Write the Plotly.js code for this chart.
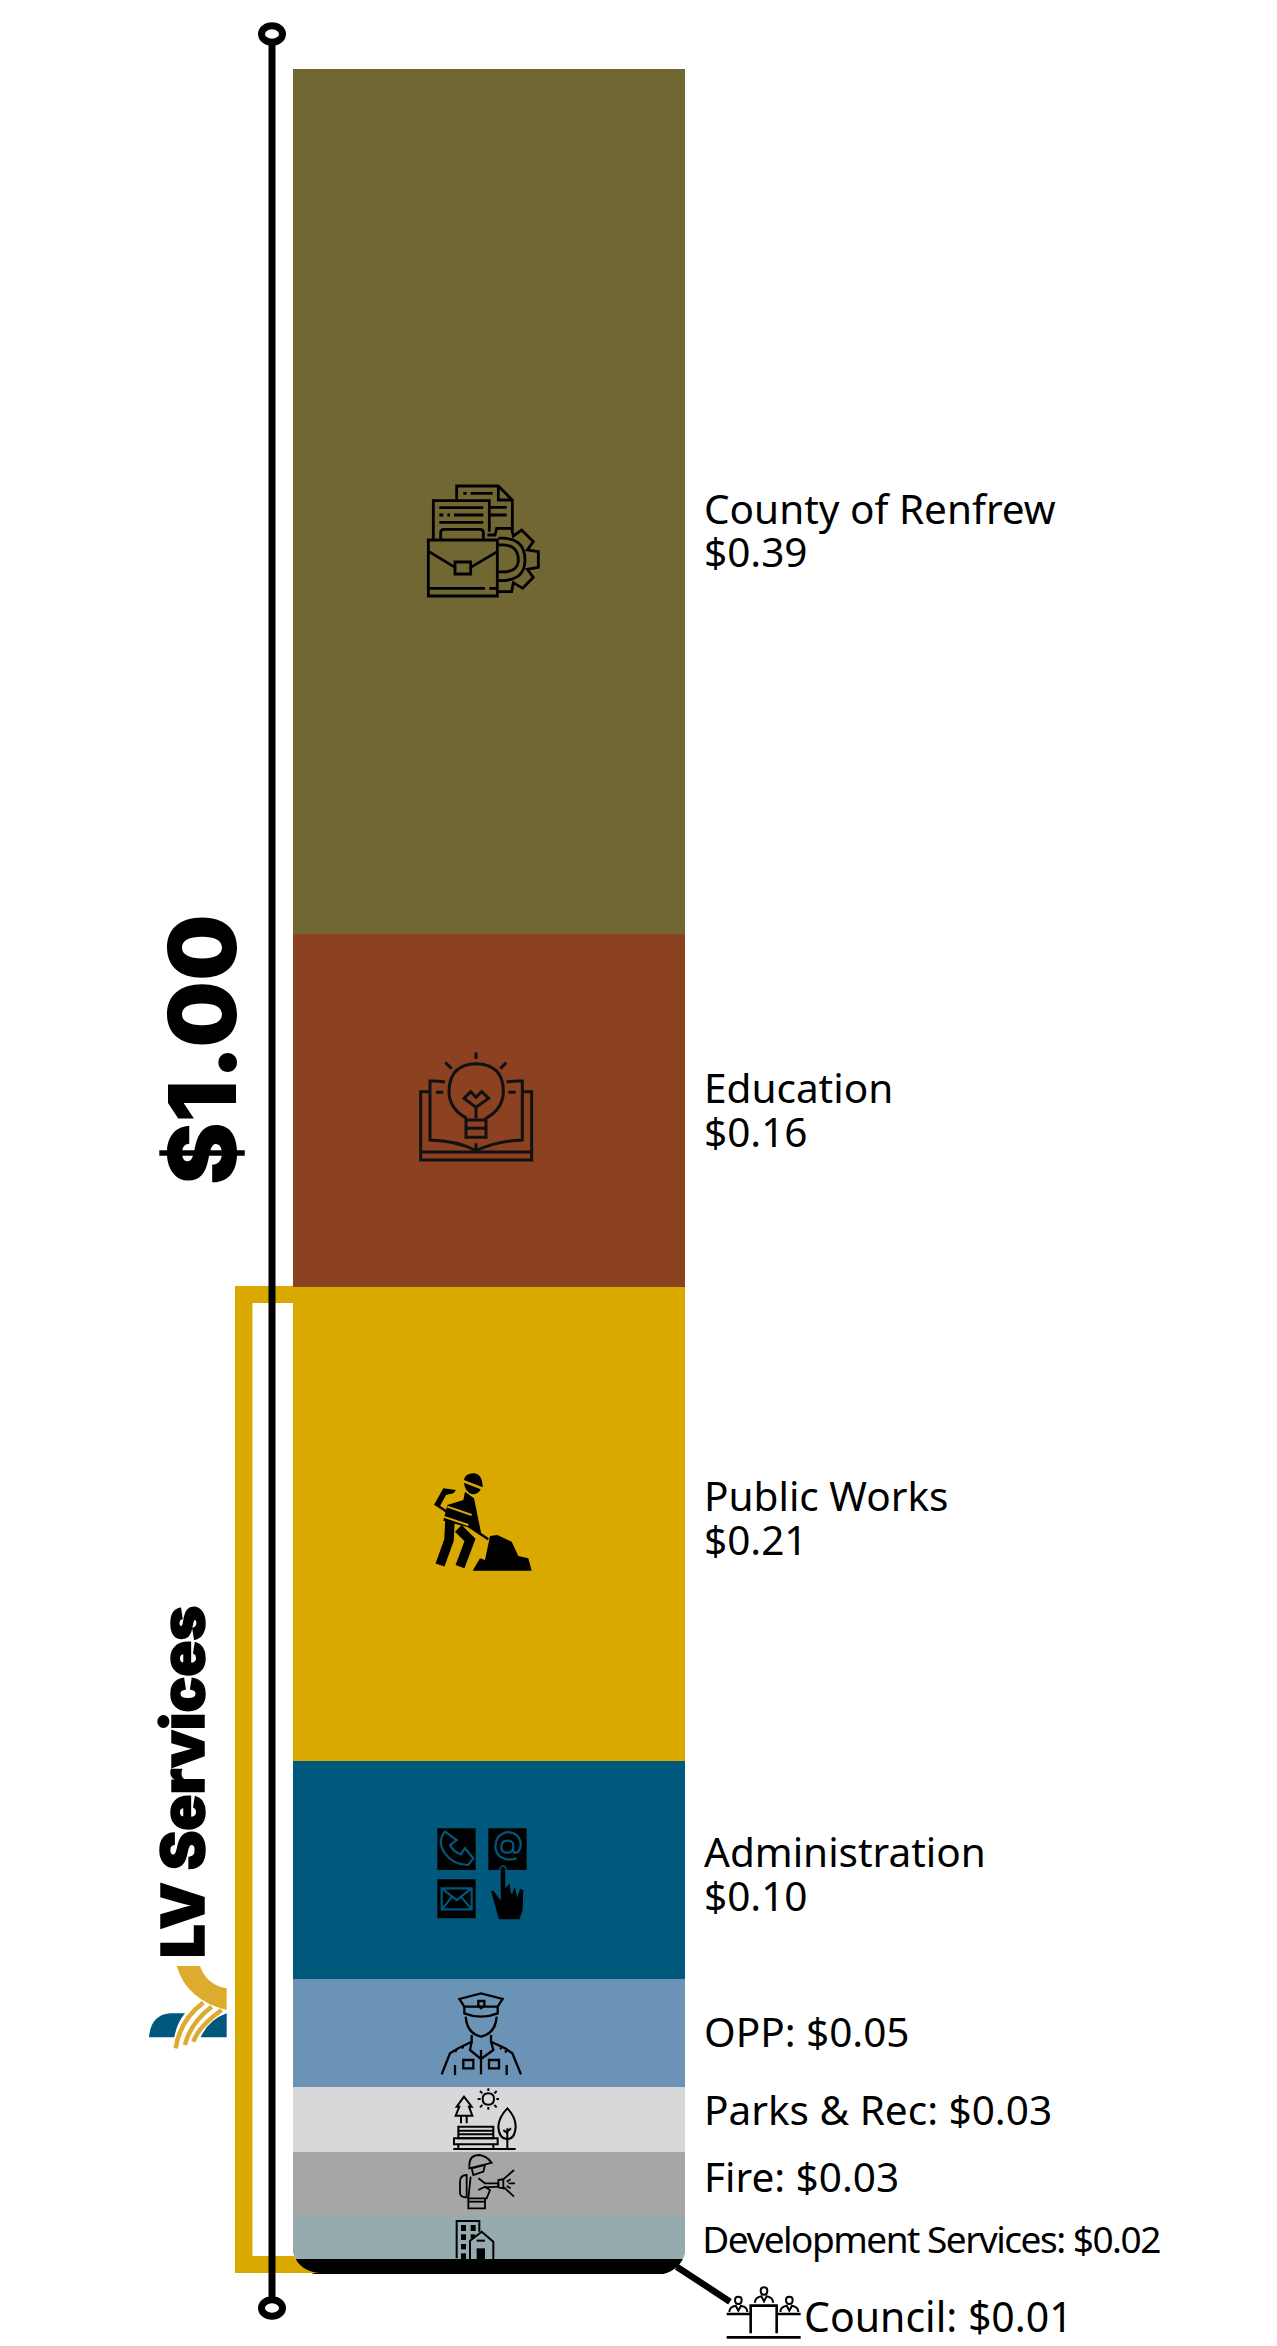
<!DOCTYPE html>
<html><head><meta charset="utf-8">
<script src="https://cdn.plot.ly/plotly-3.0.1.min.js"></script>
<style>html,body{margin:0;padding:0;background:#fff}</style></head>
<body><div id="chart" style="width:1277px;height:2346px"></div>
<script>
// Stack order is bottom to top
const categories = ['Council','Development Services','Fire','Parks & Rec','OPP','Administration','Public Works','Education','County of Renfrew'];
const values = [0.0068,0.0200,0.0286,0.0295,0.0490,0.0989,0.2150,0.1600,0.3922];
const amounts = ['$0.01','$0.02','$0.03','$0.03','$0.05','$0.10','$0.21','$0.16','$0.39'];
const colors = ['#000000','#95ABAD','#A6A6A6','#D8D8D8','#6A93B5','#00587C','#D9A900','#8C4120','#716733'];
const totalLabel = '$1.00';
const groupLabel = 'LV Services';

const W=1277,H=2346, barL=293,barR=685,barT=69,barB=2274;
const span=barB-barT, pxPerX=barR-barL;

const traces = categories.map((c,i)=>({type:'bar',x:[1],y:[values[i]],width:[1],name:c,
  marker:{color:colors[i],line:{width:0}},hovertemplate:c+': '+amounts[i]+'<extra></extra>'}));

const num=/(-?\d+(?:\.\d+)?)[ ,]+(-?\d+(?:\.\d+)?)/g;
const tf=(ox,oy,k,s)=>s.replace(num,(m,a,b)=>((ox+a*k)/W).toFixed(6)+','+(1-(oy+b*k)/H).toFixed(6));
const shapes=[];
const add=(d,o={})=>shapes.push(Object.assign({type:'path',xref:'paper',yref:'paper',path:d,layer:'above',
   fillcolor:o.fill||'rgba(0,0,0,0)',line:{color:o.color||'#000',width:o.w===undefined?2.8:o.w}},o.layer?{layer:o.layer}:{}));
const icon=(ox,oy,list,o={})=>list.forEach(s=>add(tf(ox,oy,1/3,s),o));
const px=(s)=>tf(0,0,1,s);

// gold bracket
const GOLD='#D9A900';
add(px('M293 1286 L235 1286 L235 2273 L340 2273 L340 2256 L252.5 2256 L252.5 1303 L293 1303 Z'),{fill:GOLD,w:0,layer:'below'});
// rounded bottom corners
add(px('M292 2243 C292 2262 304 2275 324 2275 L292 2275 Z'),{fill:'#fff',w:0});
add(px('M294 2256 C298 2266 308 2273 322 2273 L292 2273 L292 2256 Z'),{fill:GOLD,w:0});
add(px('M686 2245 C686 2262 674 2275 654 2275 L686 2275 Z'),{fill:'#fff',w:0});
// vertical axis with end markers
add(px('M272 34 L272 2308'),{w:7});
[34,2308].forEach(y=>{
  const k=0.5523,rx=10.5,ry=8.3,X=272;
  add(px(`M${X-rx} ${y} C${X-rx} ${y-ry*k} ${X-rx*k} ${y-ry} ${X} ${y-ry} C${X+rx*k} ${y-ry} ${X+rx} ${y-ry*k} ${X+rx} ${y} C${X+rx} ${y+ry*k} ${X+rx*k} ${y+ry} ${X} ${y+ry} C${X-rx*k} ${y+ry} ${X-rx} ${y+ry*k} ${X-rx} ${y} Z`),{fill:'#fff',w:7});
});
// logo
const TEAL='#00587C',LG='#DDAC2E';
icon(130,1580,['M57 1372 Q62 1305 120 1300 L165 1300 Q140 1330 133 1372 Z','M212 1372 Q235 1320 290 1300 L290 1372 Z'],{fill:TEAL,w:0});
icon(130,1580,['M140 1158 L210 1158 Q230 1215 290 1225 L290 1290 Q170 1260 140 1158 Z'],{fill:LG,w:0});
icon(130,1580,['M137 1405 Q150 1320 220 1268','M165 1395 Q180 1330 245 1280','M190 1385 Q205 1340 275 1290'],{color:LG,w:4.5});

// briefcase
icon(400,460,['M170 118 L170 78 L295 78 L337 120 L337 210','M295 78 L295 120 L337 120','M190 100 L200 100 M212 100 L278 100','M270 142 L320 142 M270 165 L320 165',
 'M100 240 L100 122 L268 122 L268 215','M118 143 L250 143 M118 165 L130 165 M142 165 L150 165 M162 165 L250 165 M118 187 L250 187',
 'M122 238 L122 218 Q122 208 132 208 L240 208 Q250 208 250 218 L250 238','M85 240 L292 240 L292 408 L85 408 Z','M87 275 L165 322 M292 275 L212 322','M165 306 L212 306 L212 342 L165 342 Z','M87 385 L255 385 M268 385 L290 385',
 'M262 225 L285 225 L290 205 L335 205 L340 228 L365 210 L400 245 L382 270 L415 275 L415 322 L382 328 L400 352 L368 385 L340 368 L335 395 L295 395','M295 235 Q375 230 375 300 Q375 365 295 362','M295 255 Q355 250 355 300 Q355 340 295 335']);
// bulb and book
icon(400,1020,['M228 97 L228 117','M136 128 L155 146','M319 128 L301 146','M200 295 Q145 265 147 210 Q150 133 228 131 Q308 133 310 210 Q312 265 258 295 L258 352 L198 352 L198 295','M198 300 L258 300 M198 325 L258 325',
 'M228 295 L228 262 L192 235 L212 215 L228 232 L245 215 L266 235 L228 262','M135 186 Q110 182 90 183 L90 360 Q170 362 228 392 Q290 362 367 360 L367 183 Q345 182 320 186','M90 215 L62 215 L62 420 L395 420 L395 215 L367 215','M62 396 L395 396','M228 370 L228 392','M108 217 L130 217 M325 217 L347 217'],{color:'#111',w:3});
// worker
icon(410,1450,['M162 90 Q165 70 190 70 Q218 72 218 112 Z','M162 98 L212 118 Q205 135 185 132 Q165 125 162 98 Z','M112 165 L160 150 L165 125 L192 145 L214 252 L175 232 L100 212 Z','M225 330 L240 258 L262 255 L305 275 L325 318 L355 325 L365 362 L188 362 L210 325 Z',
 'M72 165 L100 115 L138 120 L130 130 L108 135 L88 172 Z'],{fill:'#000',w:0});
icon(410,1450,['M120 210 L117 270 L90 345','M145 235 L180 270 L150 350'],{w:9.5});
icon(410,1450,['M80 165 L235 268'],{w:2.5});
icon(410,1450,['M100 200 L175 225','M112 170 L185 195'],{color:GOLD,w:2});
// contact
icon(420,1810,['M52 55 L167 55 L167 180 L52 180 Z','M205 55 L320 55 L320 180 L205 180 Z','M52 208 L167 208 L167 325 L52 325 Z'],{fill:'#000',w:0});
icon(420,1810,['M75 65 L110 90 L90 105 Q100 125 122 133 L135 115 L160 145 L145 165 Q100 165 75 130 Q50 95 75 65 Z','M290 145 Q262 155 240 140 Q215 115 235 80 Q262 55 290 75 Q312 100 295 125 Q280 135 278 115','M262 92 Q282 92 280 112 Q278 128 262 128 Q244 128 244 110 Q244 92 262 92','M65 235 L155 235 L155 298 L65 298 Z M65 235 L110 270 L155 235 M65 298 L95 262 M155 298 L125 262'],{color:TEAL,w:2.2});
icon(420,1810,['M240 175 Q250 160 258 175 L258 230 L270 215 L275 250 L285 222 L292 255 L300 232 L312 240 L310 300 L300 330 L235 330 L210 240 L222 240 L240 265 Z'],{fill:'#000',color:TEAL,w:1.5});
// officer
icon(425,1985,['M103 42 L168 25 L233 42 L218 65 L118 65 Z','M118 65 L118 85 Q168 105 218 85 L218 65','M160 48 L178 48 L178 62 L168 70 L160 62 Z','M122 95 Q125 145 168 155 Q212 145 215 95','M140 150 L140 170 L100 190 L75 205 L50 268','M198 150 L198 170 L240 190 L262 205 L288 268','M168 195 L168 268','M140 170 L135 195 L168 222 L205 195 L198 170','M115 225 L145 225 L145 250 L115 250 Z','M192 225 L222 225 L222 250 L192 250 Z','M90 240 L90 270 M245 240 L245 270','M88 195 L95 200 M110 185 L115 190 M225 188 L230 192 M240 197 L245 202'],{w:2.3});
// park
icon(425,1985,['M190 325 Q207 325 207 342 Q207 359 190 359 Q173 359 173 342 Q173 325 190 325 Z','M190 310 L190 318 M165 318 L172 325 M158 342 L167 342 M165 367 L172 360 M190 366 L190 374 M215 318 L208 325 M215 367 L208 360 M222 342 L214 342','M117 335 L95 365 L103 365 L92 392 L142 392 L132 365 L140 365 Z','M108 392 L108 415 M125 392 L125 415','M100 425 L205 425 L205 460 L100 460 Z M100 437 L205 437 M100 448 L205 448','M87 460 L218 460 L218 478 L87 478 Z','M100 478 L100 492 M205 478 L205 492','M85 492 L272 492','M247 370 Q272 395 272 425 Q270 462 247 462 Q222 462 220 425 Q222 395 247 370 Z','M247 430 L247 492 M247 445 L235 435 M247 440 L258 430'],{w:2});
// firefighter
icon(440,2150,['M88 45 Q88 15 118 15 Q140 18 155 38 L130 45 L88 55 Z','M95 55 L135 45 L130 65 L100 75 Z','M80 75 Q60 75 60 95 L60 130 Q62 142 80 142 Z','M92 80 L85 145 L140 145 L150 120 L135 110 L115 120','M115 85 L135 100 L175 100 L175 110 L135 112','M85 145 L85 175 L135 175 L135 145','M85 155 L135 155','M175 90 L190 88 L190 115 L175 112 Z','M190 88 L222 60 M192 112 L222 140 M200 95 L212 88 M205 100 L225 100 M200 108 L212 115'],{w:1.8});
// building
icon(440,2150,['M50 325 L50 213 L118 213 L118 245','M90 328 L90 272 L125 245 L160 275 L160 328','M110 272 L135 272'],{w:2});
icon(440,2150,['M63 225 L78 225 L78 243 L63 243 Z','M92 225 L107 225 L107 243 L92 243 Z','M63 253 L78 253 L78 270 L63 270 Z','M92 253 L105 253 L105 265 L92 265 Z','M63 282 L78 282 L78 298 L63 298 Z','M63 310 L78 310 L78 328 L63 328 Z','M110 295 L135 295 L135 328 L110 328 Z'],{fill:'#000',w:0});
// council
icon(660,2250,['M50 50 L210 155'],{w:6.5});
icon(660,2250,['M272 250 L272 167 L350 167 L350 250','M200 192 L272 192 M350 192 L422 192','M200 262 L422 262'],{w:2.6});
[[235,140],[312,112],[388,140]].forEach(([a,b])=>{
  const d=(n,m)=>`${a+n} ${b+m}`;
  icon(660,2250,[`M${d(-10,10)} Q${d(-10,0)} ${d(0,0)} Q${d(10,0)} ${d(10,10)} Q${d(10,22)} ${d(0,22)} Q${d(-10,22)} ${d(-10,10)} Z`,
   `M${d(-27,46)} Q${d(-27,30)} ${d(-8,27)} L${d(0,42)} L${d(8,27)} Q${d(27,30)} ${d(27,46)}`],{w:2});
});

const annotations=[];
const note=(t,x,y,size,o={})=>annotations.push(Object.assign({text:t,x:x/W,y:1-y/H,xref:'paper',yref:'paper',showarrow:false,xanchor:'left',yanchor:'middle',
  font:{family:'"Noto Sans",sans-serif',size:size,color:'#000'}},o));
const LX=702,FS=40.5;
note(categories[8],LX,508,FS); note(amounts[8],LX,551,FS);
note(categories[7],LX,1087,FS); note(amounts[7],LX,1131,FS);
note(categories[6],LX,1495,FS); note(amounts[6],LX,1539,FS);
note(categories[5],LX,1851,FS); note(amounts[5],LX,1895,FS);
note(categories[4]+': '+amounts[4],LX,2031,FS);
note(categories[3]+': '+amounts[3],LX,2109,FS);
note(categories[2]+': '+amounts[2],LX,2176,FS);
note(categories[1]+': '+amounts[1],680,2238,37);
note(categories[0]+': '+amounts[0],802,2316,41);
note(totalLabel,202,1050,94,{textangle:-90,xanchor:'center',font:{family:'Inter,sans-serif',size:94,weight:900,color:'#000'}});
note(groupLabel,182,1782,59.5,{textangle:-90,xanchor:'center',font:{family:'Inter,sans-serif',size:59.5,weight:900,color:'#000'}});

const layout={width:W,height:H,margin:{l:0,r:0,t:0,b:0},paper_bgcolor:'#fff',plot_bgcolor:'rgba(0,0,0,0)',barmode:'stack',showlegend:false,
  xaxis:{visible:false,range:[0.5-barL/pxPerX,0.5+(W-barL)/pxPerX],fixedrange:true},
  yaxis:{visible:false,range:[-(H-barB)/span,1+barT/span],fixedrange:true},
  shapes,annotations};
Plotly.newPlot('chart',traces,layout,{displayModeBar:false,staticPlot:true}).then(()=>{
  document.querySelectorAll('.annotation-text').forEach(t=>{
    if(t.textContent.startsWith('Development')) t.style.letterSpacing='-1.5px';
    if(t.textContent===groupLabel){t.style.stroke='#000';t.style.strokeWidth='1.5px';}
  });
});
</script></body></html>
